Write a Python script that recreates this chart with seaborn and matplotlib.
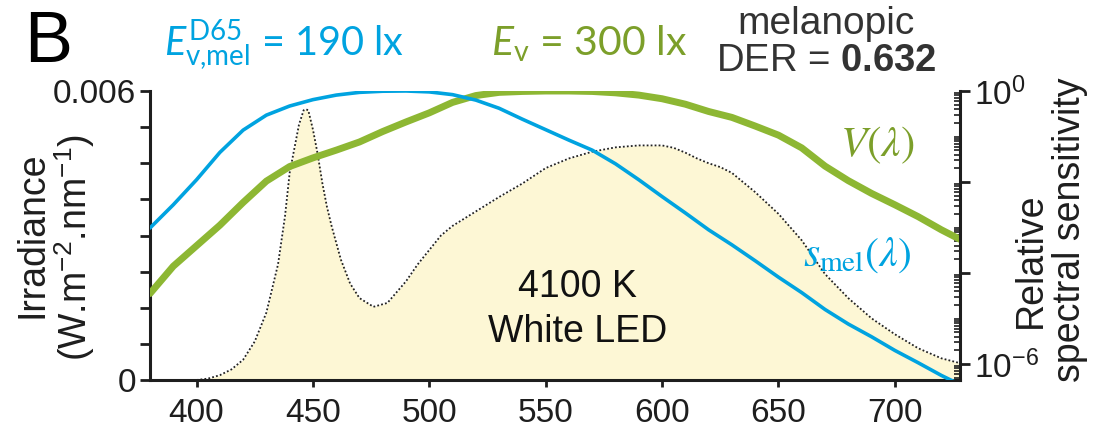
import numpy as np
import matplotlib
matplotlib.use("Agg")
import matplotlib.pyplot as plt
import seaborn as sns
from matplotlib.ticker import FixedLocator, FuncFormatter, LogLocator, MultipleLocator, NullFormatter

# ---- data -------------------------------------------------------------
# 4100 K white LED spectral irradiance (W m^-2 nm^-1)
spd_nm = [400, 405, 410, 415, 420, 425, 430, 435, 438, 440, 442, 444, 446, 447,
          448, 450, 452, 454, 456, 458, 462, 466, 470, 476, 482, 490, 495, 500,
          505, 510, 520, 530, 540, 550, 560, 570, 580, 590, 600, 605, 610, 615,
          620, 625, 630, 640, 650, 660, 670, 680, 690, 700, 710, 720, 728]
spd_irr = [0.0, 0.00003, 0.0001, 0.00022, 0.00042, 0.0008, 0.0014, 0.0024, 0.0034,
           0.0043, 0.0048, 0.0053, 0.0056, 0.00562, 0.0056, 0.0052, 0.0047, 0.0041,
           0.0036, 0.0032, 0.0025, 0.0020, 0.0017, 0.00152, 0.0016, 0.00205, 0.0024,
           0.0027, 0.0030, 0.0032, 0.0035, 0.0038, 0.00408, 0.0044, 0.0046, 0.00474,
           0.00483, 0.00487, 0.00487, 0.00482, 0.00472, 0.0046, 0.0045, 0.00442,
           0.0043, 0.0039, 0.00345, 0.0029, 0.0022, 0.0017, 0.00128, 0.00095,
           0.00066, 0.00045, 0.00035]

# action spectra (log10 of relative sensitivity)
sens_nm = [380, 390, 400, 410, 420, 430, 440, 450, 460, 470, 480, 490, 500, 510,
           520, 530, 540, 550, 560, 570, 580, 590, 600, 610, 620, 630, 640, 650,
           660, 670, 680, 690, 700, 710, 720, 728]
vlam_log10 = [-4.45, -3.85, -3.4, -2.95, -2.45, -1.98, -1.66, -1.47, -1.3, -1.12,
              -0.89, -0.68, -0.48, -0.25, -0.1, -0.03, -0.01, 0.0, 0.0, -0.01,
              -0.04, -0.09, -0.17, -0.29, -0.45, -0.58, -0.77, -0.97, -1.25, -1.65,
              -1.97, -2.25, -2.5, -2.76, -3.05, -3.26]
smel_log10 = [-3.01, -2.5, -1.95, -1.35, -0.86, -0.53, -0.33, -0.19, -0.09, -0.03,
              -0.005, 0.0, -0.02, -0.08, -0.2, -0.38, -0.62, -0.85, -1.08, -1.3,
              -1.6, -1.95, -2.32, -2.68, -3.05, -3.38, -3.73, -4.09, -4.43, -4.8,
              -5.12, -5.4, -5.7, -5.97, -6.25, -6.45]

x_ticks = [400, 450, 500, 550, 600, 650, 700]

# ---- style ------------------------------------------------------------
sns.set_style("ticks")
plt.rcParams["font.family"] = ["Liberation Sans", "DejaVu Sans"]
plt.rcParams["mathtext.fontset"] = "custom"
plt.rcParams["mathtext.rm"] = "Lato"
plt.rcParams["mathtext.it"] = "Lato:italic"
plt.rcParams["mathtext.bf"] = "Liberation Sans:bold"

BLUE = "#00A3E0"
GREEN = "#8DB733"
GREEN_TXT = "#7C9F2A"
FILL = "#FDF7D5"
INK = "#1e1e1e"

W, H = 1119, 437
fig = plt.figure(figsize=(W / 100, H / 100), dpi=100)
ax = fig.add_axes([150 / W, 57 / H, 810 / W, 289 / H])

# LED spectrum on the linear (left) axis
ax.fill_between(spd_nm, spd_irr, color=FILL, lw=0, zorder=1)
sns.lineplot(x=spd_nm, y=spd_irr, ax=ax, color="#222222", lw=1.3,
             linestyle=(0, (1, 1.2)), zorder=2)
ax.set_xlim(380, 728)
ax.set_ylim(0, 0.006)

# sensitivity curves on the log (right) axis
ax2 = ax.twinx()
sns.lineplot(x=sens_nm, y=10 ** np.array(vlam_log10), ax=ax2, color=GREEN, lw=5)
sns.lineplot(x=sens_nm, y=10 ** np.array(smel_log10), ax=ax2, color=BLUE, lw=2.6)
ax2.set_yscale("log")
ax2.set_ylim(10 ** -6.35, 1)

# spines
for a in (ax, ax2):
    a.spines["top"].set_visible(False)
    a.set_xlabel("")
    a.set_ylabel("")
ax.spines["right"].set_visible(False)
ax2.spines["left"].set_visible(False)
ax2.spines["bottom"].set_visible(False)
for s in ("left", "bottom"):
    ax.spines[s].set_linewidth(2.2)
    ax.spines[s].set_color(INK)
ax2.spines["right"].set_linewidth(2.2)
ax2.spines["right"].set_color(INK)

# ticks
ax.set_xticks(x_ticks)
ax.set_xticklabels([str(v) for v in x_ticks])
ax.tick_params(axis="x", direction="out", length=5, width=2, labelsize=24,
               pad=8, colors=INK)
ax.set_yticks([0, 0.006])
ax.set_yticklabels(["0", "0.006"])
ax.yaxis.set_minor_locator(MultipleLocator(0.00075))
ax.tick_params(axis="y", which="both", direction="out", length=7, width=2,
               labelsize=24, pad=3, colors=INK)

labels_right = {0: r"$\mathdefault{10^{0}}$", -6: r"$\mathdefault{10^{-6}}$"}
ax2.yaxis.set_major_locator(FixedLocator([1, 1e-2, 1e-4, 1e-6]))
ax2.yaxis.set_major_formatter(FuncFormatter(
    lambda v, p: labels_right.get(int(round(np.log10(v))), "")))
ax2.yaxis.set_minor_locator(LogLocator(base=10, subs=np.arange(1, 10), numticks=100))
ax2.yaxis.set_minor_formatter(NullFormatter())
ax2.tick_params(axis="y", which="major", direction="out", length=7, width=2,
                labelsize=24, pad=3, colors=INK)
ax2.tick_params(axis="y", which="minor", direction="in", length=4, width=1.2,
                colors=INK)

# axis titles
fig.text(32 / W, 1 - 235 / H, "Irradiance", rotation=90, ha="center",
         va="center", fontsize=27, color=INK)
fig.text(75 / W, 1 - 248 / H, r"(W.m$^{\mathdefault{-2}}$.nm$^{\mathdefault{-1}}$)",
         rotation=90, ha="center", va="center", fontsize=27, color=INK)
fig.text(1031 / W, 1 - 260 / H, "Relative", rotation=90, ha="center",
         va="center", fontsize=27, color=INK)
fig.text(1070 / W, 1 - 230 / H, "spectral sensitivity", rotation=90,
         ha="center", va="center", fontsize=27, color=INK)

# panel letter and header
fig.text(24 / W, 1 - 62 / H, "B", fontsize=52, ha="left", va="baseline",
         color="black")
fig.text(164 / W, 1 - 56 / H, r"$E^{\mathrm{D65}}_{\mathrm{v{,}mel}}$ = 190 lx",
         family="Lato", fontsize=28.5, ha="left", va="baseline", color=BLUE)
fig.text(491 / W, 1 - 56 / H, r"$E_{\mathrm{v}}$ = 300 lx",
         family="Lato", fontsize=29.5, ha="left", va="baseline", color=GREEN_TXT)
fig.text(826 / W, 1 - 34 / H, "melanopic", fontsize=28, ha="center",
         va="baseline", color="#333333")
fig.text(826 / W, 1 - 71 / H, r"DER = $\mathbf{0.632}$", fontsize=27.5,
         ha="center", va="baseline", color="#333333")

# curve labels
fig.text(840 / W, 1 - 145 / H, r"$V(\lambda)$", math_fontfamily="stix",
         fontsize=31, ha="left", va="center", color=GREEN_TXT)
fig.text(803 / W, 1 - 255 / H, r"$s_{\mathrm{mel}}(\lambda)$",
         math_fontfamily="stix", fontsize=30, ha="left", va="center", color=BLUE)

# source label
ax.text(0.528, 0.287, "4100 K", transform=ax.transAxes, ha="center",
        va="baseline", fontsize=27, color="#111111", zorder=5)
ax.text(0.528, 0.131, "White LED", transform=ax.transAxes, ha="center",
        va="baseline", fontsize=27, color="#111111", zorder=5)

fig.savefig("out.png", dpi=100)
